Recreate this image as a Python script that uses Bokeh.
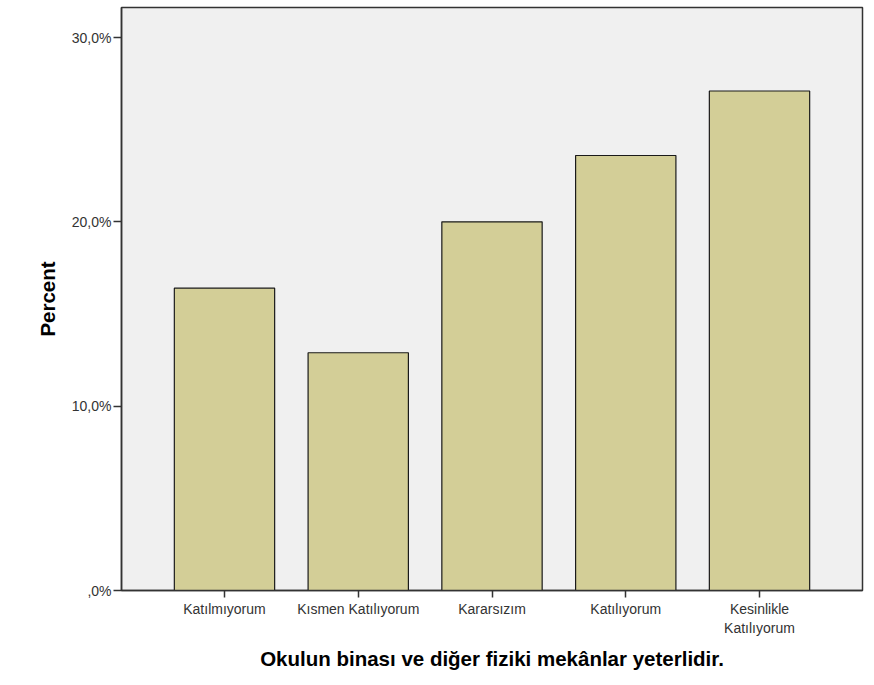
from bokeh.plotting import figure
from bokeh.models import FactorRange, Range1d, FixedTicker, ColumnDataSource
from bokeh.embed import file_html
from bokeh.resources import INLINE

categories = ["Katılmıyorum", "Kısmen Katılıyorum", "Kararsızım", "Katılıyorum", "Kesinlikle\nKatılıyorum"]
percents = [16.4, 12.9, 20.0, 23.6, 27.1]
y_ticks = [0, 10, 20, 30]
y_tick_labels = [",0%", "10,0%", "20,0%", "30,0%"]
x_title = "Okulun binası ve diğer fiziki mekânlar yeterlidir."
y_title = "Percent"

src = ColumnDataSource(dict(cat=categories, pct=percents))

p = figure(width=866, height=677, output_backend="svg", toolbar_location=None,
           x_range=FactorRange(factors=categories, range_padding=0.27, range_padding_units="absolute"),
           y_range=Range1d(0, 31.63),
           min_border_left=121, min_border_right=4, min_border_top=7, min_border_bottom=87)

p.vbar(x="cat", top="pct", width=0.75, source=src, fill_color="#D3CE97",
       line_color="#1a1a1a", line_width=1.2)

p.background_fill_color = "#F0F0F0"
p.border_fill_color = "white"
p.outline_line_color = "#333333"
p.outline_line_width = 1.5
p.xgrid.grid_line_color = None
p.ygrid.grid_line_color = None

p.yaxis.ticker = FixedTicker(ticks=y_ticks)
p.yaxis.major_label_overrides = {t: l for t, l in zip(y_ticks, y_tick_labels)}
p.yaxis.minor_tick_line_color = None

for ax in (p.xaxis[0], p.yaxis[0]):
    ax.axis_line_color = "#333333"
    ax.axis_line_width = 1.5
    ax.major_tick_line_color = "#333333"
    ax.major_tick_line_width = 1.5
    ax.major_tick_in = 0
    ax.major_label_text_font = "Liberation Sans"
    ax.major_label_text_font_size = "14px"
    ax.major_label_text_color = "#333333"
    ax.axis_label_text_font = "Liberation Sans"
    ax.axis_label_text_font_size = "20.5px"
    ax.axis_label_text_font_style = "bold"
    ax.axis_label_text_color = "black"

p.yaxis.major_tick_out = 8
p.yaxis.major_label_standoff = 2
p.yaxis.axis_label = y_title
p.yaxis.axis_label_standoff = 10

p.xaxis.major_tick_out = 7
p.xaxis.major_label_standoff = 3
p.xaxis.axis_label = x_title
p.xaxis.axis_label_standoff = 8
p.xaxis.major_label_orientation = "horizontal"

open("out.html", "w").write(file_html(p, INLINE))
